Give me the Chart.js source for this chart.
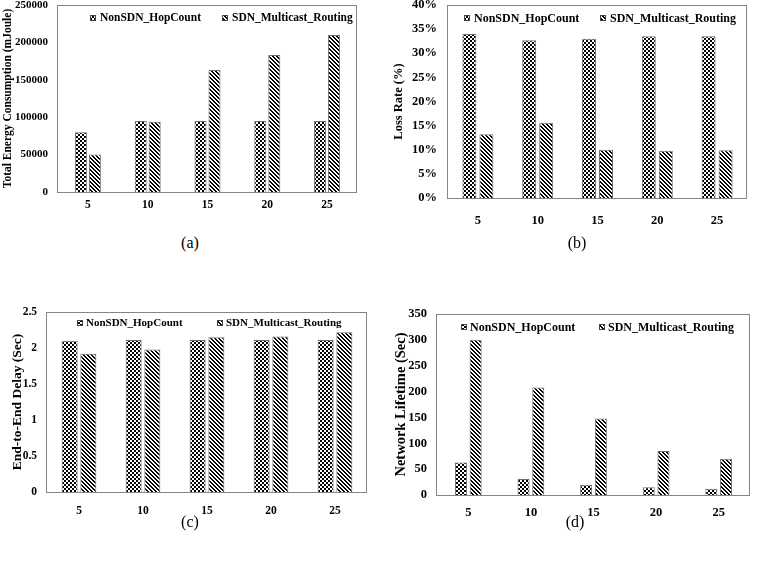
<!DOCTYPE html>
<html><head><meta charset="utf-8">
<script src="https://cdn.jsdelivr.net/npm/chart.js@4.4.0/dist/chart.umd.min.js"></script>
<style>
html,body{margin:0;padding:0;background:#fff;}
#wrap{position:relative;width:757px;height:563px;overflow:hidden;background:#fff;}
#wrap canvas{position:absolute;}
.cap{position:absolute;font-family:'Liberation Serif',serif;font-size:16px;color:#000;transform:translate(-50%,-50%);white-space:nowrap;}
</style></head><body>
<div id="wrap">
<canvas id="ca" width="365" height="215" style="left:0px;top:0px"></canvas>
<canvas id="cb" width="379" height="235" style="left:378px;top:0px"></canvas>
<canvas id="cc" width="375" height="230" style="left:0px;top:300px"></canvas>
<canvas id="cd" width="379" height="230" style="left:378px;top:300px"></canvas>
<div class="cap" style="left:190px;top:243px">(a)</div>
<div class="cap" style="left:577px;top:243px">(b)</div>
<div class="cap" style="left:190px;top:522px">(c)</div>
<div class="cap" style="left:575px;top:522px">(d)</div>
</div>
<script>
// ---- data ----
const categories = ['5', '10', '15', '20', '25'];
const seriesNames = ['NonSDN_HopCount', 'SDN_Multicast_Routing'];
const energyNonSDN = [80000, 95000, 95000, 95000, 95000];
const energySDN = [50000, 94000, 163000, 183000, 210000];
const lossNonSDN = [34.0, 32.7, 33.0, 33.5, 33.5];
const lossSDN = [13.2, 15.6, 10.0, 9.8, 9.9];
const delayNonSDN = [2.10, 2.11, 2.11, 2.11, 2.11];
const delaySDN = [1.92, 1.98, 2.15, 2.16, 2.22];
const lifeNonSDN = [63, 31, 20, 15, 12];
const lifeSDN = [300, 208, 148, 85, 70];
const axisTitles = ['Total Energy Consumption (mJoule)', 'Loss Rate (%)', 'End-to-End Delay (Sec)', 'Network Lifetime (Sec)'];

const FONT = "'Liberation Serif', 'Times New Roman', serif";

function makeChecker() {
  const c = document.createElement('canvas'); c.width = 4; c.height = 4;
  const g = c.getContext('2d');
  g.fillStyle = '#fff'; g.fillRect(0, 0, 4, 4);
  g.fillStyle = '#000'; g.fillRect(0, 0, 2, 2); g.fillRect(2, 2, 2, 2);
  return g.createPattern(c, 'repeat');
}
function makeStripes() {
  const c = document.createElement('canvas'); c.width = 4; c.height = 4;
  const g = c.getContext('2d');
  g.fillStyle = '#fff'; g.fillRect(0, 0, 4, 4);
  g.fillStyle = '#000';
  for (let y = 0; y < 4; y++) for (let x = 0; x < 4; x++) {
    const d = ((x - y) % 4 + 4) % 4;
    if (d === 0 || d === 1) g.fillRect(x, y, 1, 1);
  }
  return g.createPattern(c, 'repeat');
}
const checker = makeChecker();
const stripes = makeStripes();

const framePlugin = {
  id: 'frame',
  afterDatasetsDraw(chart, args, o) {
    const { ctx, chartArea: a } = chart;
    ctx.save();
    ctx.strokeStyle = o.color || '#808080';
    ctx.lineWidth = 1;
    const x0 = Math.round(a.left) - 0.5, y0 = Math.round(a.top) + 0.5;
    const x1 = Math.round(a.right) - 0.5, y1 = Math.round(a.bottom) + 0.5;
    ctx.strokeRect(x0, y0, x1 - x0, y1 - y0);
    ctx.restore();
  }
};

const innerLegend = {
  id: 'innerLegend',
  afterDraw(chart, args, o) {
    const { ctx, chartArea } = chart;
    ctx.save();
    ctx.font = 'bold ' + o.size + 'px ' + FONT;
    ctx.textBaseline = 'middle'; ctx.textAlign = 'left';
    chart.data.datasets.forEach((ds, i) => {
      const x = Math.round(chartArea.left + o.xs[i]);
      const y = Math.round(chartArea.top + o.y);
      const b = o.box;
      ctx.fillStyle = ds.backgroundColor;
      ctx.fillRect(x, y - b / 2, b, b);
      ctx.strokeStyle = '#444'; ctx.lineWidth = 1;
      ctx.strokeRect(x + 0.5, y - b / 2 + 0.5, b - 1, b - 1);
      ctx.fillStyle = '#000';
      ctx.fillText(ds.label, x + b + o.gap, y + 0.5);
    });
    ctx.restore();
  }
};

function makeChart(id, c) {
  return new Chart(document.getElementById(id), {
    type: 'bar',
    data: {
      labels: categories,
      datasets: [
        { label: seriesNames[0], data: c.a, backgroundColor: checker, borderColor: '#6e6e6e', borderWidth: 1,
          categoryPercentage: c.cp, barPercentage: c.bp },
        { label: seriesNames[1], data: c.b, backgroundColor: stripes, borderColor: '#6e6e6e', borderWidth: 1,
          categoryPercentage: c.cp, barPercentage: c.bp }
      ]
    },
    options: {
      responsive: false,
      animation: false,
      layout: { padding: c.pad },
      plugins: {
        legend: { display: false },
        tooltip: { enabled: false },
        frame: { color: '#858585' },
        innerLegend: c.legend
      },
      scales: {
        x: {
          grid: { display: false, drawTicks: false },
          border: { display: false },
          ticks: { color: '#000', font: { family: FONT, weight: 'bold', size: c.xfs }, padding: c.xpad, maxRotation: 0, autoSkip: false },
          afterFit(s) { s.height = c.xh; s.paddingLeft = 0; s.paddingRight = 0; }
        },
        y: {
          min: 0, max: c.max,
          grid: { display: false, drawTicks: false },
          border: { display: false },
          ticks: { stepSize: c.step, color: '#000', font: { family: FONT, weight: 'bold', size: c.yfs }, padding: c.ypad, callback: c.fmt },
          title: { display: true, text: c.title, color: '#000', font: { family: FONT, weight: 'bold', size: c.tfs }, padding: { top: c.tpad, bottom: 0 } },
          afterFit(s) { s.width = c.yw; s.paddingTop = 0; s.paddingBottom = 0; }
        }
      }
    },
    plugins: [framePlugin, innerLegend]
  });
}

makeChart('ca', {
  a: energyNonSDN, b: energySDN, max: 250000, step: 50000, fmt: v => String(v),
  title: axisTitles[0], tfs: 11.5, tpad: 1,
  pad: { left: 0, top: 5, right: 8, bottom: 0 }, yw: 58, xh: 23,
  yfs: 11, ypad: 10, xfs: 11.5, xpad: 6, cp: 0.468, bp: 0.857,
  legend: { xs: [32, 164], y: 13, size: 11.5, box: 6, gap: 4 }
});
makeChart('cb', {
  a: lossNonSDN, b: lossSDN, max: 40, step: 5, fmt: v => v + '%',
  title: axisTitles[1], tfs: 12.5, tpad: 13,
  pad: { left: 0, top: 5, right: 10, bottom: 0 }, yw: 70, xh: 37,
  yfs: 12.5, ypad: 11, xfs: 12.5, xpad: 15, cp: 0.569, bp: 0.82,
  legend: { xs: [16, 152], y: 13, size: 12, box: 6, gap: 4 }
});
makeChart('cc', {
  a: delayNonSDN, b: delaySDN, max: 2.5, step: 0.5, fmt: v => String(v),
  title: axisTitles[2], tfs: 13.5, tpad: 9,
  pad: { left: 0, top: 12, right: 8, bottom: 0 }, yw: 47, xh: 38,
  yfs: 11.5, ypad: 10, xfs: 11.5, xpad: 12, cp: 0.584, bp: 0.856,
  legend: { xs: [30, 170], y: 11, size: 11, box: 6, gap: 3 }
});
makeChart('cd', {
  a: lifeNonSDN, b: lifeSDN, max: 350, step: 50, fmt: v => String(v),
  title: axisTitles[3], tfs: 14.5, tpad: 15,
  pad: { left: 0, top: 14, right: 7, bottom: 0 }, yw: 59, xh: 35,
  yfs: 12.5, ypad: 10, xfs: 12.5, xpad: 10, cp: 0.47, bp: 0.816,
  legend: { xs: [24, 162], y: 13, size: 12, box: 6, gap: 3 }
});
</script>
</body></html>
